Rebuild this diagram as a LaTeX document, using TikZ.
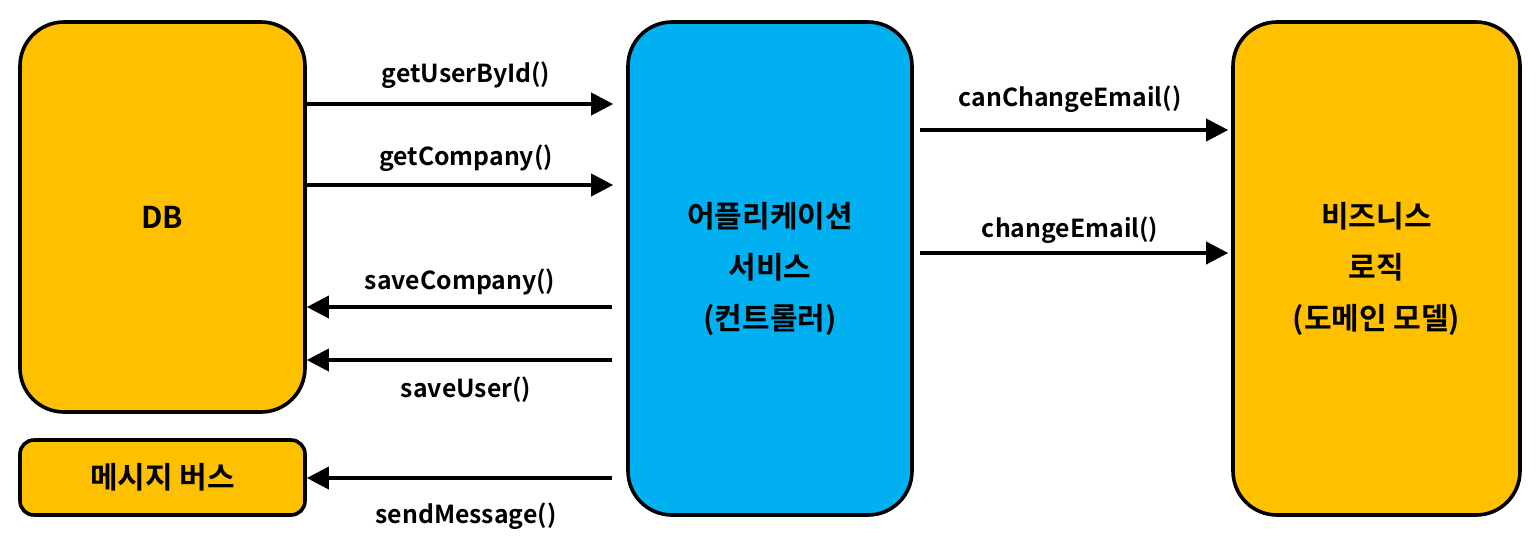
\documentclass[tikz,border=0pt]{standalone}
\usepackage{fontspec}
\setmainfont{Noto Sans CJK KR Bold}
\usetikzlibrary{arrows.meta}

\definecolor{boxorange}{HTML}{FFC000}
\definecolor{boxblue}{HTML}{00B0F0}

\tikzset{
    bigbox/.style={draw, line width=1.8pt, rounded corners=22pt, align=center, font=\fontsize{15}{25.5}\selectfont},
    smallbox/.style={draw, line width=1.8pt, rounded corners=7pt, font=\fontsize{15}{17}\selectfont},
    call/.style={line width=1.9pt, -{Triangle[length=11pt,width=11pt]}},
    lbl/.style={font=\fontsize{12.4}{14}\selectfont}
}

\begin{document}
\begin{tikzpicture}[x=0.5pt, y=-0.5pt]
            \useasboundingbox (0,0) rectangle (1537,538);

            \node[bigbox, fill=boxorange, minimum width=142.5pt, minimum height=195pt] (db) at (162.5,217) {DB};
            \node[smallbox, fill=boxorange, minimum width=142.5pt, minimum height=37.5pt] (bus) at (162.5,477.5) {메시지 버스};
            \node[bigbox, fill=boxblue, minimum width=142pt, minimum height=246.5pt] (app) at (770,268.5) {어플리케이션\\서비스\\(컨트롤러)};
            \node[bigbox, fill=boxorange, minimum width=143.5pt, minimum height=246.5pt] (domain) at (1376.5,268.5) {비즈니스\\로직\\(도메인 모델)};

            \draw[call, shorten >=6.5pt] (db.east |- 0,104) -- (app.west |- 0,104);
            \draw[call, shorten >=6.5pt] (db.east |- 0,185) -- (app.west |- 0,185);
            \draw[call, shorten <=7pt] (app.west |- 0,307) -- (db.east |- 0,307);
            \draw[call, shorten <=7pt] (app.west |- 0,360) -- (db.east |- 0,360);
            \draw[call, shorten <=7pt] (app.west |- 0,478) -- (bus.east |- 0,478);
            \draw[call, shorten <=3pt, shorten >=1.5pt] (app.east |- 0,130) -- (domain.west |- 0,130);
            \draw[call, shorten <=3pt, shorten >=1.5pt] (app.east |- 0,253) -- (domain.west |- 0,253);

            \node[lbl] (getuser) at (466,75) {getUserById()};
            \node[lbl] (getcompany) at (466,158) {getCompany()};
            \node[lbl] (savecompany) at (460,282) {saveCompany()};
            \node[lbl] (saveuser) at (466,390) {saveUser()};
            \node[lbl] (sendmsg) at (466,516) {sendMessage()};
            \node[lbl] (canchange) at (1070,99) {canChangeEmail()};
            \node[lbl] (change) at (1070,230) {changeEmail()};

        \end{tikzpicture}
\end{document}
